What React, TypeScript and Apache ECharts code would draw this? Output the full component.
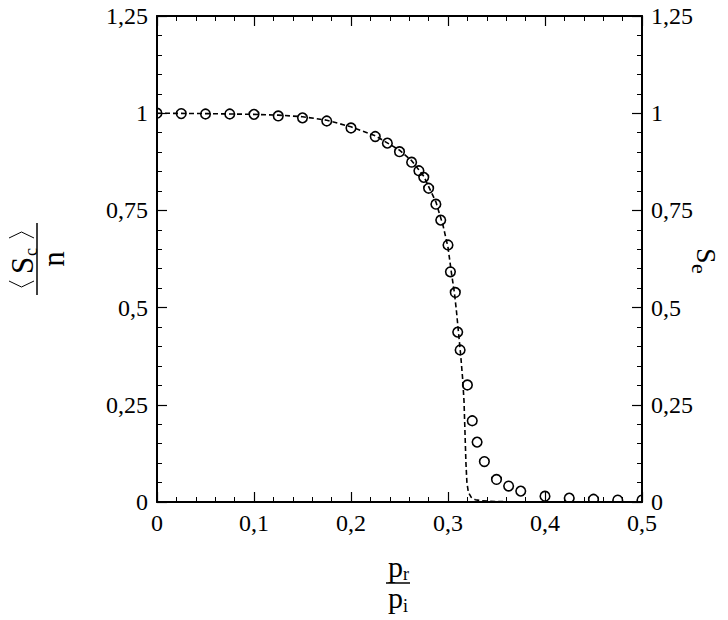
import React, { useEffect, useRef } from "react";
import * as echarts from "echarts";

// Simulated points (open circles)
const pointX = [0, 0.025, 0.05, 0.075, 0.1, 0.125, 0.15, 0.175, 0.2, 0.225, 0.2375, 0.25, 0.2625, 0.27, 0.275, 0.28, 0.2875, 0.2925, 0.3, 0.3025, 0.3075, 0.31, 0.3125, 0.32, 0.325, 0.33, 0.3375, 0.35, 0.3625, 0.375, 0.4, 0.425, 0.45, 0.475, 0.5];
const pointY = [1.0, 0.999, 0.998, 0.998, 0.997, 0.993, 0.988, 0.98, 0.962, 0.94, 0.923, 0.901, 0.874, 0.852, 0.835, 0.807, 0.766, 0.725, 0.661, 0.592, 0.539, 0.437, 0.391, 0.301, 0.209, 0.154, 0.104, 0.058, 0.041, 0.028, 0.015, 0.01, 0.007, 0.005, 0.005];

// Theoretical curve (dashed line)
const curveX = [0, 0.05, 0.1, 0.125, 0.15, 0.175, 0.2, 0.225, 0.25, 0.2625, 0.275, 0.2875, 0.295, 0.3, 0.3035, 0.3065, 0.3086, 0.3109, 0.313, 0.315, 0.3165, 0.3175, 0.3185, 0.3195, 0.321, 0.324, 0.328, 0.335, 0.35, 0.4, 0.5];
const curveY = [1.0, 0.999, 0.997, 0.995, 0.991, 0.982, 0.965, 0.942, 0.905, 0.878, 0.838, 0.772, 0.71, 0.655, 0.59, 0.54, 0.494, 0.434, 0.38, 0.32, 0.26, 0.18, 0.1, 0.05, 0.025, 0.012, 0.006, 0.003, 0.001, 0, 0];

const xTicks = { min: 0, max: 0.5, interval: 0.1 };
const yTicks = { min: 0, max: 1.25, interval: 0.25 };

const FONT = "Liberation Serif";

const fmt = (v: number) => String(parseFloat(v.toFixed(3))).replace(".", ",");

export default function App() {
  const ref = useRef<HTMLDivElement>(null);
  useEffect(() => {
    if (!ref.current) return;
    const chart = echarts.init(ref.current, undefined, { renderer: "svg" });
    const axisCommon = {
      type: "value",
      axisLine: { show: true, onZero: false, lineStyle: { color: "#000", width: 2 } },
      axisTick: { show: true, inside: true, length: 10, lineStyle: { color: "#000", width: 1.2 } },
      minorTick: { show: true, splitNumber: 5, length: 5, lineStyle: { color: "#000", width: 1 } },
      splitLine: { show: false },
      minorSplitLine: { show: false },
    };
    const labelStyle = { fontFamily: FONT, fontSize: 24, color: "#000", formatter: fmt };
    const pts = pointX.map((x, i) => [x, pointY[i]]);
    const curve = curveX.map((x, i) => [x, curveY[i]]);
    const txt = (text: string, x: number, y: number, size: number, align = "left") => ({
      type: "text",
      style: { text, x, y, fontFamily: FONT, fontSize: size, fill: "#000", align, verticalAlign: "middle" },
    });
    chart.setOption({
      animation: false,
      backgroundColor: "#fff",
      grid: { left: 157, top: 16, width: 485, height: 486, containLabel: false },
      xAxis: [
        { ...axisCommon, ...xTicks, position: "bottom", axisLabel: { ...labelStyle, margin: 9 } },
        { ...axisCommon, ...xTicks, position: "top", axisLabel: { show: false } },
      ],
      yAxis: [
        { ...axisCommon, ...yTicks, position: "left", axisLabel: { ...labelStyle, margin: 9 } },
        { ...axisCommon, ...yTicks, position: "right", axisLabel: { ...labelStyle, margin: 9 } },
      ],
      series: [
        {
          type: "line",
          data: curve,
          showSymbol: false,
          symbol: "none",
          clip: true,
          lineStyle: { color: "#000", width: 1.6, type: [5, 3] },
          z: 2,
        },
        {
          type: "custom",
          data: pts,
          clip: true,
          encode: { x: 0, y: 1 },
          renderItem: (params: any, api: any) => {
            const p = api.coord([api.value(0), api.value(1)]);
            return {
              type: "circle",
              shape: { cx: p[0], cy: p[1], r: 4.8 },
              style: { fill: "none", stroke: "#000", lineWidth: 1.6 },
            };
          },
          z: 3,
        },
      ],
      graphic: [
        // Left axis name: <S_c> / n, rotated
        {
          type: "group",
          x: 37,
          y: 259,
          rotation: Math.PI / 2,
          children: [
            { type: "polyline", shape: { points: [[-22, -28], [-28, -15.5], [-22, -3]] }, style: { stroke: "#000", lineWidth: 1, fill: "none" } },
            { type: "polyline", shape: { points: [[21, -28], [27, -15.5], [21, -3]] }, style: { stroke: "#000", lineWidth: 1, fill: "none" } },
            txt("S", -15, -15, 31),
            txt("c", 3, -6, 18),
            { type: "line", shape: { x1: -36, y1: 0, x2: 36, y2: 0 }, style: { stroke: "#000", lineWidth: 1.5 } },
            txt("n", 0, 16, 31, "center"),
          ],
        },
        // Right axis name: S_e, rotated clockwise
        {
          type: "group",
          x: 703,
          y: 260,
          rotation: -Math.PI / 2,
          children: [txt("S", -12, -3, 28), txt("e", 4, 4, 22)],
        },
        // Bottom axis name: p_r / p_i
        {
          type: "group",
          x: 0,
          y: 0,
          children: [
            txt("p", 388, 566, 30),
            txt("r", 403, 574, 18),
            { type: "line", shape: { x1: 386, y1: 583, x2: 410, y2: 583 }, style: { stroke: "#000", lineWidth: 1.5 } },
            txt("p", 388, 597, 30),
            txt("i", 403, 606, 18),
          ],
        },
      ],
    });
    return () => chart.dispose();
  }, []);
  return <div ref={ref} style={{ position: "absolute", left: 0, top: 0, width: 728, height: 620 }} />;
}
